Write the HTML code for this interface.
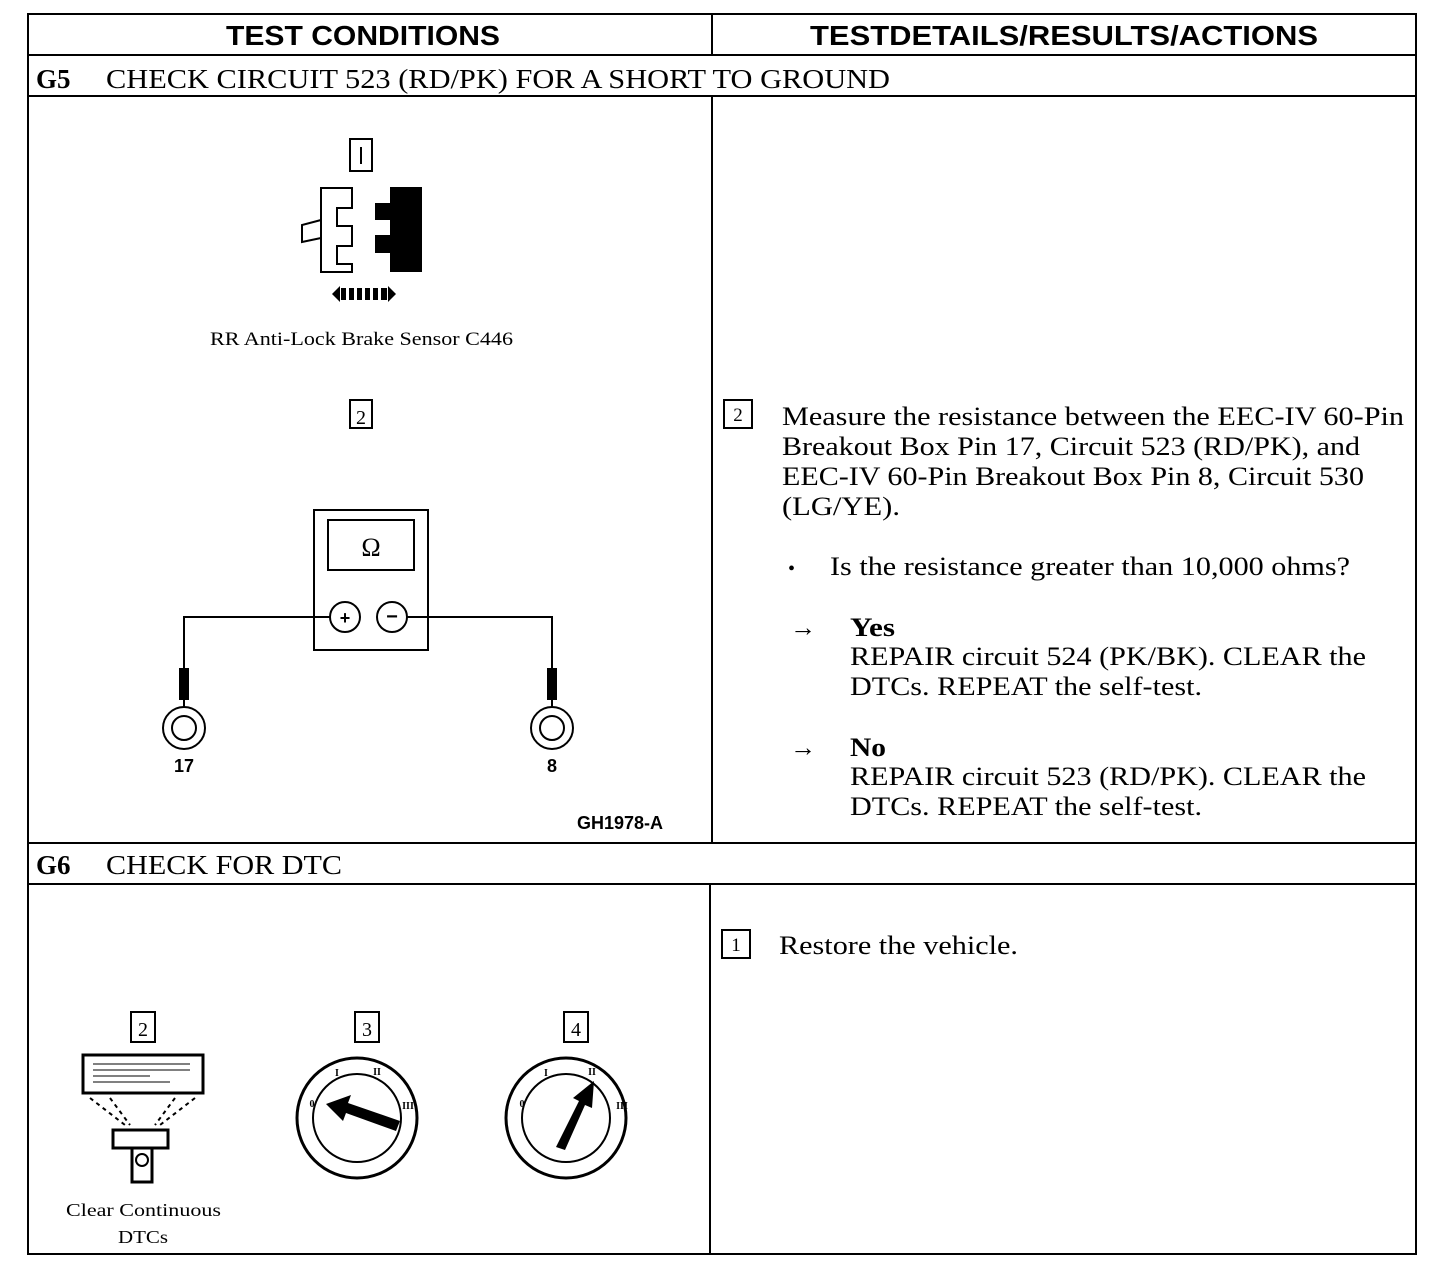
<!DOCTYPE html>
<html><head><style>
body{margin:0;background:#fff;}
svg{display:block}
.s{font-family:"Liberation Serif",serif;}
.h{font-family:"Liberation Sans",sans-serif;font-weight:bold;}
</style></head><body>
<svg width="1456" height="1266" viewBox="0 0 1456 1266" xmlns="http://www.w3.org/2000/svg">
<g fill="none" stroke="#000" stroke-width="2">
<rect x="28" y="14" width="1388" height="1240"/>
<line x1="28" y1="55" x2="1416" y2="55"/>
<line x1="28" y1="96" x2="1416" y2="96"/>
<line x1="28" y1="843" x2="1416" y2="843"/>
<line x1="28" y1="884" x2="1416" y2="884"/>
<line x1="712" y1="14" x2="712" y2="55"/>
<line x1="712" y1="96" x2="712" y2="843"/>
<line x1="710" y1="884" x2="710" y2="1254"/>
</g>
<text class="h" x="226" y="45" font-size="28" textLength="274" lengthAdjust="spacingAndGlyphs">TEST CONDITIONS</text>
<text class="h" x="810" y="45" font-size="28" textLength="508" lengthAdjust="spacingAndGlyphs">TESTDETAILS/RESULTS/ACTIONS</text>
<text class="s" x="36" y="88" font-size="27" font-weight="bold">G5</text>
<text class="s" x="106" y="88" font-size="27" textLength="784" lengthAdjust="spacingAndGlyphs">CHECK CIRCUIT 523 (RD/PK) FOR A SHORT TO GROUND</text>
<text class="s" x="36" y="874" font-size="27" font-weight="bold">G6</text>
<text class="s" x="106" y="874" font-size="27" textLength="236" lengthAdjust="spacingAndGlyphs">CHECK FOR DTC</text>

<!-- connector -->
<g stroke="#000" stroke-width="2" fill="none">
<rect x="350" y="139" width="22" height="32"/>
<line x1="361" y1="147" x2="361" y2="164"/>
<path d="M321,188 H352 V208 H337 V226 H352 V246 H337 V264 H352 V272 H321 Z"/>
<path d="M321,220 L302,225 V242 L321,238"/>
</g>
<path d="M390,187 H422 V272 H390 V253 H375 V235 H390 V220 H375 V203 H390 Z" fill="#000"/>
<g fill="#000"><path d="M332,294 L340,286 V302 Z"/><path d="M396,294 L388,286 V302 Z"/>
<rect x="341" y="288" width="5" height="12"/><rect x="349" y="288" width="5" height="12"/><rect x="357" y="288" width="5" height="12"/><rect x="365" y="288" width="5" height="12"/><rect x="373" y="288" width="5" height="12"/><rect x="381" y="288" width="6" height="12"/></g>
<text class="s" x="210" y="345" font-size="19" textLength="303" lengthAdjust="spacingAndGlyphs">RR Anti-Lock Brake Sensor C446</text>

<!-- meter -->
<g stroke="#000" stroke-width="2" fill="none">
<rect x="350" y="400" width="22" height="28"/>
<rect x="314" y="510" width="114" height="140"/>
<rect x="328" y="520" width="86" height="50"/>
<circle cx="345" cy="617" r="15"/><circle cx="392" cy="617" r="15"/>
<polyline points="330,617 184,617 184,670"/>
<polyline points="407,617 552,617 552,670"/>
<circle cx="184" cy="728" r="21"/><circle cx="184" cy="728" r="12"/>
<circle cx="552" cy="728" r="21"/><circle cx="552" cy="728" r="12"/>
<line x1="184" y1="700" x2="184" y2="707"/><line x1="552" y1="700" x2="552" y2="707"/>
</g>
<rect x="179" y="668" width="10" height="32" fill="#000"/>
<rect x="547" y="668" width="10" height="32" fill="#000"/>
<text class="s" x="361" y="424" font-size="20" text-anchor="middle">2</text>
<text class="s" x="371" y="556" font-size="26" text-anchor="middle">Ω</text>
<text class="h" x="345" y="624" font-size="18" text-anchor="middle">+</text>
<text class="h" x="392" y="623" font-size="20" text-anchor="middle">−</text>
<text class="h" x="184" y="772" font-size="18" text-anchor="middle">17</text>
<text class="h" x="552" y="772" font-size="18" text-anchor="middle">8</text>
<text class="h" x="620" y="829" font-size="18" text-anchor="middle">GH1978-A</text>

<!-- right G5 -->
<rect x="724" y="400" width="28" height="28" fill="none" stroke="#000" stroke-width="2"/>
<text class="s" x="738" y="421" font-size="19" text-anchor="middle">2</text>
<g class="s" font-size="26">
<text x="782" y="425" textLength="622" lengthAdjust="spacingAndGlyphs">Measure the resistance between the EEC-IV 60-Pin</text>
<text x="782" y="455" textLength="578" lengthAdjust="spacingAndGlyphs">Breakout Box Pin 17, Circuit 523 (RD/PK), and</text>
<text x="782" y="485" textLength="582" lengthAdjust="spacingAndGlyphs">EEC-IV 60-Pin Breakout Box Pin 8, Circuit 530</text>
<text x="782" y="515" textLength="118" lengthAdjust="spacingAndGlyphs">(LG/YE).</text>
<text x="788" y="575" font-size="20">•</text>
<text x="830" y="575" textLength="520" lengthAdjust="spacingAndGlyphs">Is the resistance greater than 10,000 ohms?</text>
<text x="790" y="636">→</text>
<text x="850" y="636" font-weight="bold" textLength="45" lengthAdjust="spacingAndGlyphs">Yes</text>
<text x="850" y="665" textLength="516" lengthAdjust="spacingAndGlyphs">REPAIR circuit 524 (PK/BK). CLEAR the</text>
<text x="850" y="695" textLength="352" lengthAdjust="spacingAndGlyphs">DTCs. REPEAT the self-test.</text>
<text x="790" y="756">→</text>
<text x="850" y="756" font-weight="bold" textLength="36" lengthAdjust="spacingAndGlyphs">No</text>
<text x="850" y="785" textLength="516" lengthAdjust="spacingAndGlyphs">REPAIR circuit 523 (RD/PK). CLEAR the</text>
<text x="850" y="815" textLength="352" lengthAdjust="spacingAndGlyphs">DTCs. REPEAT the self-test.</text>
<text x="779" y="954" textLength="239" lengthAdjust="spacingAndGlyphs">Restore the vehicle.</text>
</g>
<rect x="722" y="930" width="28" height="28" fill="none" stroke="#000" stroke-width="2"/>
<text class="s" x="736" y="951" font-size="19" text-anchor="middle">1</text>

<!-- G6 icons -->
<g stroke="#000" stroke-width="2" fill="none">
<rect x="131" y="1012" width="24" height="30"/>
<rect x="355" y="1012" width="24" height="30"/>
<rect x="564" y="1012" width="24" height="30"/>
<rect x="83" y="1055" width="120" height="38" stroke-width="3"/>
<g stroke-dasharray="4,4"><line x1="90" y1="1098" x2="125" y2="1125"/><line x1="110" y1="1098" x2="130" y2="1125"/><line x1="175" y1="1098" x2="155" y2="1125"/><line x1="195" y1="1098" x2="160" y2="1125"/></g>
<rect x="113" y="1130" width="55" height="18" stroke-width="3"/>
<rect x="132" y="1148" width="20" height="34" stroke-width="3"/>
<circle cx="142" cy="1160" r="6"/>
<circle cx="357" cy="1118" r="60" stroke-width="3"/><circle cx="357" cy="1118" r="44"/>
<circle cx="566" cy="1118" r="60" stroke-width="3"/><circle cx="566" cy="1118" r="44"/>
</g>
<g stroke="#000" stroke-width="1" fill="#000">
<line x1="93" y1="1064" x2="190" y2="1064"/><line x1="93" y1="1070" x2="190" y2="1070"/><line x1="93" y1="1076" x2="150" y2="1076"/><line x1="93" y1="1082" x2="170" y2="1082"/>
</g>
<path d="M396,1131 L400,1121 L348,1103 L351,1095 L326,1104 L343,1121 L346,1113 Z" fill="#000"/>
<path d="M556,1147 L565,1150 L585,1105 L592,1108 L594,1081 L573,1098 L579,1101 Z" fill="#000"/>
<g class="s" font-size="10" font-weight="bold" text-anchor="middle">
<text x="337" y="1076">I</text><text x="377" y="1075">II</text><text x="312" y="1107">0</text><text x="408" y="1109">III</text>
<text x="546" y="1076">I</text><text x="592" y="1075">II</text><text x="522" y="1107">0</text><text x="622" y="1109">III</text>
</g>
<g class="s" font-size="20" text-anchor="middle">
<text x="143" y="1036">2</text><text x="367" y="1036">3</text><text x="576" y="1036">4</text>
</g>
<g class="s" font-size="18">
<text x="66" y="1216" textLength="155" lengthAdjust="spacingAndGlyphs">Clear Continuous</text>
<text x="118" y="1243" textLength="50" lengthAdjust="spacingAndGlyphs">DTCs</text>
</g>
</svg>
</body></html>
